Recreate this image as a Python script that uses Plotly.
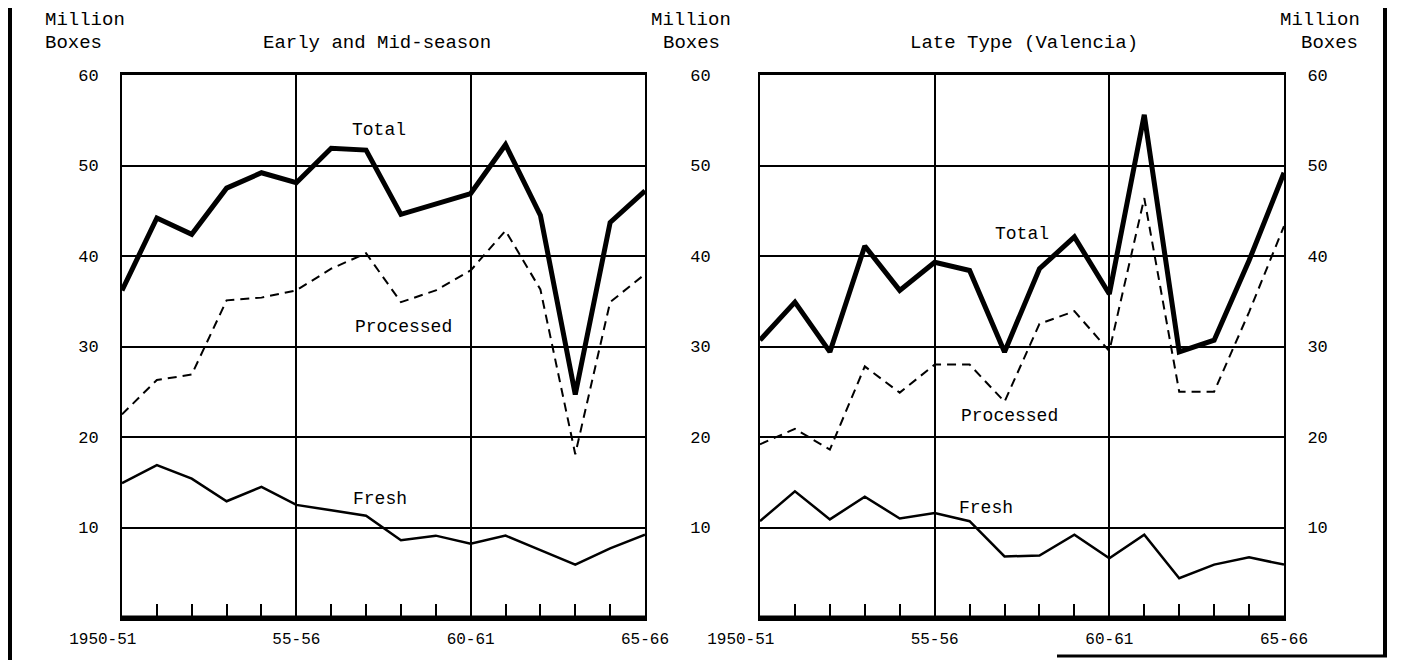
import plotly.graph_objects as go

# ---- data ----
seasons = list(range(16))  # 1950-51 ... 1965-66
tick_pos = [0, 5, 10, 15]
tick_text = ["1950-51\u00a0\u00a0\u00a0\u00a0", "55-56", "60-61", "65-66"]
y_ticks = [10, 20, 30, 40, 50, 60]

early_total = [36.2, 44.2, 42.4, 47.5, 49.2, 48.1, 51.9, 51.7, 44.6, 45.8, 46.9, 52.3, 44.5, 24.7, 43.7, 47.2]
early_processed = [22.5, 26.3, 26.9, 35.1, 35.4, 36.2, 38.6, 40.3, 34.9, 36.2, 38.4, 42.8, 36.3, 18.1, 34.9, 38.0]
early_fresh = [14.9, 16.9, 15.4, 12.9, 14.5, 12.5, 11.9, 11.3, 8.6, 9.1, 8.2, 9.1, 7.5, 5.9, 7.7, 9.2]

late_total = [30.7, 34.9, 29.4, 41.1, 36.2, 39.3, 38.4, 29.4, 38.6, 42.1, 35.8, 55.6, 29.4, 30.7, 39.5, 49.2]
late_processed = [19.2, 20.9, 18.6, 27.8, 24.9, 28.0, 28.0, 23.9, 32.5, 33.9, 29.5, 46.4, 25.0, 25.0, 33.8, 43.3]
late_fresh = [10.7, 14.0, 10.9, 13.4, 11.0, 11.6, 10.7, 6.8, 6.9, 9.2, 6.6, 9.2, 4.4, 5.9, 6.7, 5.9]

FONT = "Liberation Mono, DejaVu Sans Mono, monospace"
OFF = 8                      # page body margin
W, H = 1401 - OFF, 660 - OFF

def px(x):   # screen x -> paper fraction
    return (x - OFF) / W

def py(y):   # screen y (from top) -> paper fraction
    return 1 - (y - OFF) / H

left_dom = [px(122), px(645)]
right_dom = [px(760), px(1284)]
y_dom = [py(618), py(75)]

fig = go.Figure()

def add_series(xa, ya, total, processed, fresh):
    fig.add_trace(go.Scatter(x=seasons, y=total, mode="lines", xaxis=xa, yaxis=ya,
                             line=dict(color="black", width=5), showlegend=False, hoverinfo="skip"))
    fig.add_trace(go.Scatter(x=seasons, y=processed, mode="lines", xaxis=xa, yaxis=ya,
                             line=dict(color="black", width=2, dash="9px,6px"), showlegend=False, hoverinfo="skip"))
    fig.add_trace(go.Scatter(x=seasons, y=fresh, mode="lines", xaxis=xa, yaxis=ya,
                             line=dict(color="black", width=2.5), showlegend=False, hoverinfo="skip"))

add_series("x", "y", early_total, early_processed, early_fresh)
add_series("x2", "y2", late_total, late_processed, late_fresh)
# invisible trace to activate the right-hand axis of the second panel
fig.add_trace(go.Scatter(x=[0], y=[0], xaxis="x2", yaxis="y3", mode="markers",
                         marker=dict(opacity=0), showlegend=False, hoverinfo="skip"))

def xaxis_cfg(dom, anchor):
    return dict(domain=dom, anchor=anchor, range=[0, 15], tickmode="array",
                tickvals=tick_pos, ticktext=tick_text, ticks="inside", ticklen=14,
                tickwidth=1.5, tickcolor="black",
                showgrid=True, gridcolor="black", gridwidth=1.5,
                showline=True, linecolor="black", linewidth=3, mirror=True,
                zeroline=False, ticklabelstandoff=4, automargin=False,
                minor=dict(ticks="inside", ticklen=14, tickwidth=1.5, tickcolor="black",
                           dtick=1, tick0=0, showgrid=False),
                tickfont=dict(family=FONT, size=16, color="black"), fixedrange=True)

def yaxis_cfg(anchor, standoff, side="left", overlay=None, grid=True):
    d = dict(domain=y_dom, anchor=anchor, range=[0, 60], tickmode="array",
             tickvals=y_ticks, ticks="", showgrid=grid, gridcolor="black", gridwidth=2,
             showline=True, linecolor="black", linewidth=2, mirror=True,
             zeroline=False, side=side, ticklabelstandoff=standoff, automargin=False,
             tickfont=dict(family=FONT, size=17, color="black"), fixedrange=True)
    if overlay:
        d["overlaying"] = overlay
    return d

fig.update_layout(
    width=W, height=H, autosize=False,
    margin=dict(l=0, r=0, t=0, b=0, pad=0, autoexpand=False),
    paper_bgcolor="white", plot_bgcolor="white",
    xaxis=xaxis_cfg(left_dom, "y"),
    yaxis=yaxis_cfg("x", 18),
    xaxis2=xaxis_cfg(right_dom, "y2"),
    yaxis2=yaxis_cfg("x2", 44),
    yaxis3=yaxis_cfg("x2", 18, side="right", overlay="y2", grid=False),
)

# thick bottom axis lines
for xr, yr in (("x domain", "y"), ("x2 domain", "y2")):
    fig.add_shape(type="line", xref=xr, yref=yr, x0=0, x1=1, y0=0, y1=0,
                  line=dict(color="black", width=5))

# page frame
fig.add_shape(type="line", xref="paper", yref="paper", x0=2 / W, x1=2 / W, y0=0, y1=1,
              line=dict(color="black", width=4))
fig.add_shape(type="line", xref="paper", yref="paper", x0=px(1385), x1=px(1385), y0=py(657), y1=1,
              line=dict(color="black", width=4))
fig.add_shape(type="line", xref="paper", yref="paper", x0=px(1057), x1=px(1387), y0=py(656), y1=py(656),
              line=dict(color="black", width=3))

def ann(text, x, y, xref="paper", yref="paper", xanchor="center", size=19):
    fig.add_annotation(text=text, x=x, y=y, xref=xref, yref=yref, xanchor=xanchor,
                       yanchor="middle", showarrow=False,
                       font=dict(family=FONT, size=size, color="black"))

# headers
ann("Million", px(43), py(20), xanchor="left")
ann("Boxes", px(43), py(43), xanchor="left")
ann("Early and Mid-season", px(377), py(43))
ann("Million", px(733), py(20), xanchor="right")
ann("Boxes", px(722), py(43), xanchor="right")
ann("Late Type (Valencia)", px(1024), py(43))
ann("Million", px(1362), py(20), xanchor="right")
ann("Boxes", px(1360), py(43), xanchor="right")

# series labels
ann("Total", 7.38, 53.9, "x", "y", size=18)
ann("Processed", 8.06, 32.1, "x", "y", size=18)
ann("Fresh", 7.4, 13.2, "x", "y", size=18)
ann("Total", 7.5, 42.4, "x2", "y2", size=18)
ann("Processed", 7.13, 22.3, "x2", "y2", size=18)
ann("Fresh", 6.46, 12.2, "x2", "y2", size=18)

fig.write_html("out.html")
